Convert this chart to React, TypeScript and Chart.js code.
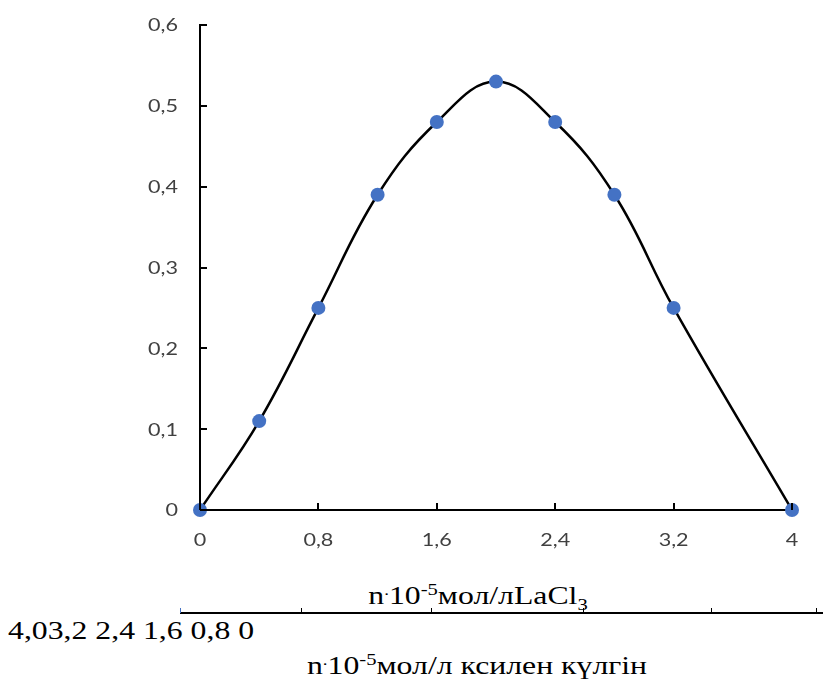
import React, { useEffect, useRef } from "react";
import { Chart, registerables } from "chart.js";

Chart.register(...registerables);

// LaCl3 concentration (n·10^-5 mol/l) and absorbance
const xValues = [0, 0.4, 0.8, 1.2, 1.6, 2.0, 2.4, 2.8, 3.2, 4.0];
const yValues = [0, 0.11, 0.25, 0.39, 0.48, 0.53, 0.48, 0.39, 0.25, 0];
const xTickValues = [0, 0.8, 1.6, 2.4, 3.2, 4];
const yTickValues = [0, 0.1, 0.2, 0.3, 0.4, 0.5, 0.6];
const secondaryTickLabels = ["4,0", "3,2", "2,4", "1,6", "0,8", "0"];

const fmt = (v: number) => String(Math.round(v * 10) / 10).replace(".", ",");

const STRETCH = 1.27;

const axisDecor = {
  id: "axisDecor",
  afterDraw(chart: any) {
    const { ctx, scales, chartArea } = chart;
    ctx.save();
    // inner tick marks
    ctx.strokeStyle = "#000";
    ctx.lineWidth = 2;
    ctx.beginPath();
    yTickValues.forEach((v) => {
      const y = Math.round(scales.y.getPixelForValue(v));
      ctx.moveTo(chartArea.left, y);
      ctx.lineTo(chartArea.left + 7, y);
    });
    xTickValues.forEach((v) => {
      const x = Math.round(scales.x.getPixelForValue(v));
      ctx.moveTo(x, chartArea.bottom);
      ctx.lineTo(x, chartArea.bottom - 7);
    });
    ctx.stroke();
    // tick labels (horizontally stretched like the reference)
    ctx.fillStyle = "#404040";
    ctx.font = "17px Lato, 'Open Sans', sans-serif";
    ctx.textBaseline = "middle";
    yTickValues.forEach((v) => {
      const y = scales.y.getPixelForValue(v);
      ctx.save();
      ctx.translate(chartArea.left - 22, y + 1);
      ctx.scale(STRETCH, 1);
      ctx.textAlign = "right";
      ctx.fillText(fmt(v), 0, 0);
      ctx.restore();
    });
    xTickValues.forEach((v) => {
      const x = scales.x.getPixelForValue(v);
      ctx.save();
      ctx.translate(x, chartArea.bottom + 31);
      ctx.scale(STRETCH, 1);
      ctx.textAlign = "center";
      ctx.fillText(fmt(v), 0, 0);
      ctx.restore();
    });
    ctx.restore();
  },
};

export default function App() {
  const ref = useRef<HTMLCanvasElement | null>(null);

  useEffect(() => {
    if (!ref.current) return;
    const chart = new Chart(ref.current, {
      type: "scatter",
      data: {
        datasets: [
          {
            data: xValues.map((x, i) => ({ x, y: yValues[i] })),
            showLine: true,
            borderColor: "#000",
            borderWidth: 2.5,
            tension: 0.4,
            pointRadius: 7,
            pointHoverRadius: 7,
            pointBackgroundColor: "#4472C4",
            pointBorderColor: "#4472C4",
            pointBorderWidth: 0,
            clip: false as any,
          },
        ],
      },
      options: {
        animation: false,
        responsive: false,
        maintainAspectRatio: false,
        layout: { padding: { left: 0, right: 31, top: 25, bottom: 0 } },
        plugins: { legend: { display: false }, tooltip: { enabled: false } },
        scales: {
          x: {
            type: "linear",
            min: 0,
            max: 4,
            afterBuildTicks: (scale: any) => {
              scale.ticks = xTickValues.map((value) => ({ value }));
            },
            afterFit: (scale: any) => {
              scale.height = 50;
              scale.paddingLeft = 0;
              scale.paddingRight = 0;
            },
            ticks: { display: false },
            grid: { display: true, drawOnChartArea: false, drawTicks: false },
            border: { display: true, color: "#000", width: 2 },
          },
          y: {
            type: "linear",
            min: 0,
            max: 0.6,
            afterBuildTicks: (scale: any) => {
              scale.ticks = yTickValues.map((value) => ({ value }));
            },
            afterFit: (scale: any) => {
              scale.width = 200;
              scale.paddingTop = 0;
              scale.paddingBottom = 0;
            },
            ticks: { display: false },
            grid: { display: true, drawOnChartArea: false, drawTicks: false },
            border: { display: true, color: "#000", width: 2 },
          },
        },
      },
      plugins: [axisDecor],
    });
    return () => chart.destroy();
  }, []);

  const serif = "'Liberation Serif', 'Times New Roman', serif";
  const secondaryText = secondaryTickLabels[0] + secondaryTickLabels.slice(1).join(" ");
  const secTickXs = [301, 431, 583, 711, 816];
  const supStyle: React.CSSProperties = { fontSize: "0.65em", lineHeight: 0, verticalAlign: "super" };
  const dotStyle: React.CSSProperties = { fontSize: "0.6em", lineHeight: 0, verticalAlign: "super" };
  const subStyle: React.CSSProperties = { fontSize: "0.65em", lineHeight: 0, verticalAlign: "sub" };
  const textBase: React.CSSProperties = {
    position: "absolute",
    fontFamily: serif,
    fontSize: 25,
    color: "#000",
    whiteSpace: "nowrap",
    lineHeight: "32px",
  };

  return (
    <div style={{ position: "absolute", left: 0, top: 0, width: 823, height: 682, background: "#fff", overflow: "hidden" }}>
      <canvas ref={ref} width={823} height={560} style={{ position: "absolute", left: 0, top: 0 }} />
      <div style={{ ...textBase, left: 478, top: 580, transform: `translateX(-50%) scaleX(${STRETCH})` }}>
        n<span style={dotStyle}>.</span>10<span style={supStyle}>-5</span>мол/лLaCl<span style={subStyle}>3</span>
      </div>
      <div style={{ position: "absolute", left: 180, top: 612, width: 643, height: 2, background: "#000" }} />
      <div style={{ position: "absolute", left: 180, top: 608, width: 1, height: 5, background: "#4472C4" }} />
      {secTickXs.map((x) => (
        <div key={x} style={{ position: "absolute", left: x, top: 608, width: 1, height: 5, background: "#000" }} />
      ))}
      <div style={{ ...textBase, left: 8, top: 615, transformOrigin: "left top", transform: `scaleX(${STRETCH})` }}>
        {secondaryText}
      </div>
      <div style={{ ...textBase, left: 477, top: 650, transform: `translateX(-50%) scaleX(${STRETCH})` }}>
        n<span style={dotStyle}>.</span>10<span style={supStyle}>-5</span>мол/л ксилен күлгін
      </div>
    </div>
  );
}
